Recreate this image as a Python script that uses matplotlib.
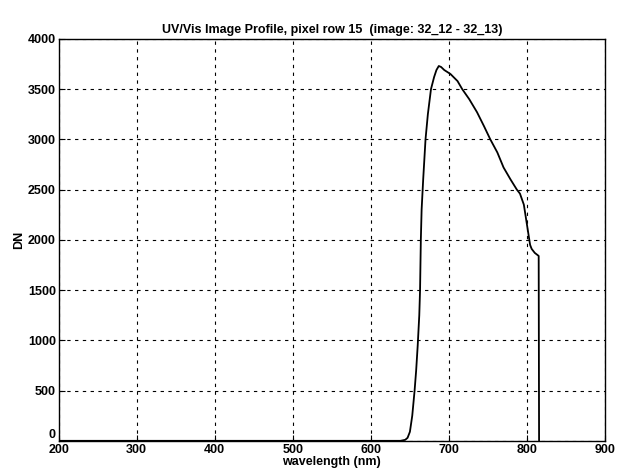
import matplotlib.pyplot as plt

plt.rcParams['font.family'] = ['Liberation Sans', 'DejaVu Sans']

# profile
wavelength = [200, 400, 600, 638, 644, 647, 650, 653, 656, 658, 660, 662, 663, 664,
              665, 667, 670, 673, 677, 681, 684, 687, 690, 694, 702, 711, 717,
              726, 736, 745, 753, 762, 770, 779, 787, 791, 796, 800, 804, 806,
              810, 815, 815.5]
dn = [0, 0, 0, 0, 10, 30, 90, 250, 500, 700, 950, 1250, 1500, 2000,
      2300, 2600, 3000, 3250, 3500, 3620, 3690, 3730, 3720, 3690, 3650, 3580, 3500,
      3400, 3270, 3130, 3000, 2870, 2720, 2600, 2500, 2460, 2350, 2150, 1950, 1910,
      1870, 1840, 0]

xticks = [200, 300, 400, 500, 600, 700, 800, 900]
yticks = [0, 500, 1000, 1500, 2000, 2500, 3000, 3500, 4000]

fig = plt.figure(figsize=(6.18, 4.74), dpi=100)
ax = fig.add_axes([0.095, 0.07, 0.884, 0.848])

ax.plot(wavelength, dn, color='black', linewidth=1.3)

ax.set_xlim(200, 900)
ax.set_ylim(0, 4000)
ax.set_xticks(xticks)
ax.set_yticks(yticks)
ax.grid(True, color='black', linestyle=(0, (3, 4)), linewidth=0.8)
ax.tick_params(direction='in', length=4, labelsize=9, pad=2)
for lab in ax.get_xticklabels() + ax.get_yticklabels():
    lab.set_fontweight('bold')
# the "0" sits just above the "200" in the original
ax.get_yticklabels()[0].set_verticalalignment('bottom')
for s in ax.spines.values():
    s.set_linewidth(1.0)

ax.set_title('UV/Vis Image Profile, pixel row 15  (image: 32_12 - 32_13)',
             fontsize=9, fontweight='bold', pad=4)
ax.set_xlabel('wavelength (nm)', fontsize=9, fontweight='bold', labelpad=0)
ax.set_ylabel('DN', fontsize=9, fontweight='bold', labelpad=2)

fig.savefig('out.png', dpi=100)
